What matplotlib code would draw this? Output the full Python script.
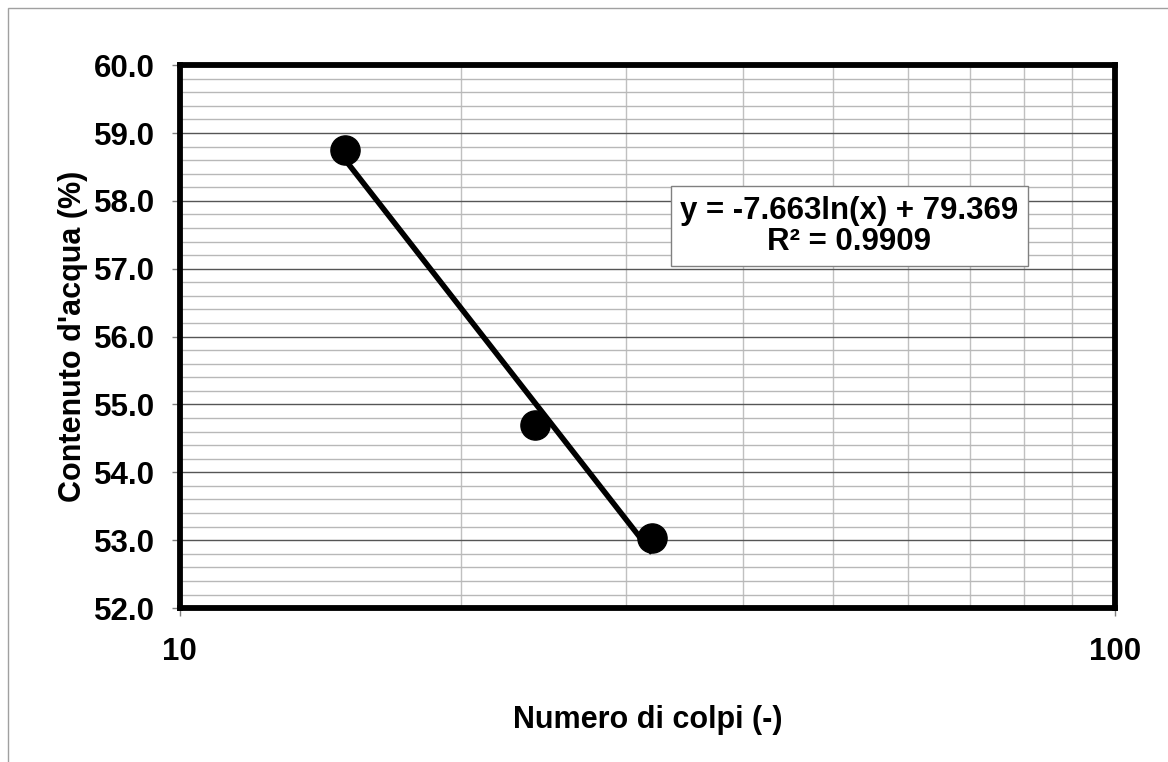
import numpy as np
import matplotlib.pyplot as plt
from matplotlib.patches import Rectangle
from matplotlib.ticker import FixedLocator, FormatStrFormatter, NullFormatter

plt.rcParams['font.family'] = ['Liberation Sans', 'DejaVu Sans']
plt.rcParams['font.weight'] = 'bold'

# numero di colpi e contenuto d'acqua misurati
colpi = [15, 24, 32]
umidita = [58.75, 54.70, 53.03]

# coefficienti della linea di tendenza logaritmica
coef_a = -7.663
coef_b = 79.369
r2 = 0.9909

fig = plt.figure(figsize=(11.68, 7.62), dpi=100)
ax = fig.add_axes([0.154, 0.202, 0.8006, 0.7125])

# cornice esterna grigia
fig.patches.append(Rectangle((0.007, -0.05), 1.2, 1.039, transform=fig.transFigure,
                             fill=False, edgecolor='#a0a0a0', linewidth=1.0))

xt = np.array([min(colpi), max(colpi)], dtype=float)
ax.plot(xt, coef_a * np.log(xt) + coef_b, color='black', linewidth=4.0,
        solid_capstyle='butt', zorder=3)
ax.plot(colpi, umidita, 'o', color='black', markersize=21, zorder=4)

ax.set_xscale('log')
ax.set_xlim(10, 100)
ax.set_ylim(52, 60)

ax.xaxis.set_major_locator(FixedLocator([10, 100]))
ax.xaxis.set_minor_locator(FixedLocator(range(20, 100, 10)))
ax.xaxis.set_major_formatter(FormatStrFormatter('%d'))
ax.xaxis.set_minor_formatter(NullFormatter())
ax.yaxis.set_major_locator(FixedLocator(np.arange(52, 60.01, 1.0)))
ax.yaxis.set_minor_locator(FixedLocator(np.arange(52, 60.01, 0.2)))
ax.yaxis.set_major_formatter(FormatStrFormatter('%.1f'))

ax.grid(which='major', axis='y', color='#555555', linewidth=1.0)
ax.grid(which='minor', axis='y', color='#b8b8b8', linewidth=1.0)
ax.grid(which='minor', axis='x', color='#c0c0c0', linewidth=1.0)

ax.tick_params(axis='both', which='major', labelsize=22.5, length=6, width=1.0,
               color='#808080', direction='out')
ax.tick_params(axis='y', which='major', pad=12)
ax.tick_params(axis='x', which='major', pad=15)
ax.tick_params(axis='both', which='minor', length=0)

for s in ax.spines.values():
    s.set_linewidth(4.2)
    s.set_color('black')

ax.set_xlabel('Numero di colpi (-)', fontsize=22, fontweight='bold', labelpad=27)
ax.set_ylabel("Contenuto d'acqua (%)", fontsize=22, fontweight='bold', labelpad=4)

ax.text(0.716, 0.703, 'y = %.3fln(x) + %.3f\nR² = %.4f' % (coef_a, coef_b, r2),
        transform=ax.transAxes, ha='center', va='center', fontsize=22.5,
        fontweight='bold', linespacing=1.05, zorder=5,
        bbox=dict(boxstyle='square,pad=0.3', facecolor='white',
                  edgecolor='#808080', linewidth=1.0))

fig.savefig('out.png', dpi=100)
